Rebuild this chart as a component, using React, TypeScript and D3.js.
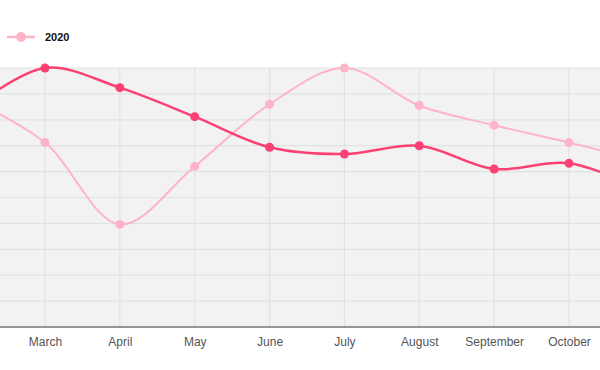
import React, { useEffect, useRef } from "react";
import * as d3 from "d3";

const months = ["February", "March", "April", "May", "June", "July", "August", "September", "October", "November"];
const series2019 = [8.4, 10, 9.24, 8.12, 6.94, 6.68, 7.0, 6.1, 6.32, 5.3];
const series2020 = [8.8, 7.12, 3.96, 6.2, 8.6, 10, 8.55, 7.79, 7.12, 6.4];
const yTicks = d3.range(0, 11);

const width = 600;
const height = 370;

export default function App() {
  const svgRef = useRef<SVGSVGElement>(null);

  useEffect(() => {
    const svg = d3.select(svgRef.current);
    svg.selectAll("*").remove();

    const top = 68;
    const bottom = 327;
    const step = (569 - 45) / 7;

    const x = d3.scalePoint<string>()
      .domain(months)
      .range([45 - step, 569 + step]);

    const y = d3.scaleLinear().domain([0, 10]).range([bottom, top]);

    // plot background
    svg.append("rect")
      .attr("x", 0)
      .attr("y", top)
      .attr("width", width)
      .attr("height", bottom - top)
      .attr("fill", "#f2f2f2");

    // grid
    svg.append("g")
      .selectAll("line")
      .data(yTicks)
      .enter()
      .append("line")
      .attr("x1", 0)
      .attr("x2", width)
      .attr("y1", d => y(d))
      .attr("y2", d => y(d))
      .attr("stroke", "#e2e2e2")
      .attr("stroke-width", 1.2);

    svg.append("g")
      .selectAll("line")
      .data(months)
      .enter()
      .append("line")
      .attr("x1", d => x(d)!)
      .attr("x2", d => x(d)!)
      .attr("y1", top)
      .attr("y2", bottom)
      .attr("stroke", "#e2e2e2")
      .attr("stroke-width", 1.2);

    // x axis - only labels that fit inside the view
    const visible = months.filter(m => x(m)! > 0 && x(m)! < width);
    const xAxis = d3.axisBottom(x).tickValues(visible).tickSize(0).tickPadding(10);
    const gx = svg.append("g")
      .attr("transform", `translate(0, ${bottom})`)
      .call(xAxis);
    gx.select(".domain").remove();
    gx.selectAll("text")
      .attr("fill", "#555")
      .style("font-family", "Arial, 'Liberation Sans', sans-serif")
      .style("font-size", "12px");

    svg.append("line")
      .attr("x1", 0)
      .attr("x2", width)
      .attr("y1", bottom)
      .attr("y2", bottom)
      .attr("stroke", "#777")
      .attr("stroke-width", 1.5);

    const line = d3.line<number>()
      .x((_, i) => x(months[i])!)
      .y(d => y(d))
      .curve(d3.curveCatmullRom.alpha(0.5));

    const drawSeries = (values: number[], color: string, lw: number, r: number) => {
      svg.append("path")
        .datum(values)
        .attr("d", line)
        .attr("fill", "none")
        .attr("stroke", color)
        .attr("stroke-width", lw);
      svg.append("g")
        .selectAll("circle")
        .data(values)
        .enter()
        .append("circle")
        .attr("cx", (_, i) => x(months[i])!)
        .attr("cy", d => y(d))
        .attr("r", r)
        .attr("fill", color);
    };

    drawSeries(series2020, "#ffb3c8", 2, 4.5);
    drawSeries(series2019, "#fb4173", 2.5, 4.5);

    // legend
    const legend = svg.append("g").attr("transform", "translate(7, 37)");
    legend.append("line")
      .attr("x1", 0)
      .attr("x2", 28)
      .attr("stroke", "#ffb3c8")
      .attr("stroke-width", 2.5);
    legend.append("circle")
      .attr("cx", 14)
      .attr("r", 5)
      .attr("fill", "#ffb3c8");
    legend.append("text")
      .attr("x", 38)
      .attr("dy", "0.35em")
      .attr("fill", "#111")
      .style("font-family", "Arial, 'Liberation Sans', sans-serif")
      .style("font-size", "11px")
      .style("font-weight", "bold")
      .text("2020");
  }, []);

  return (
    <svg
      ref={svgRef}
      width={width}
      height={height}
      style={{ position: "absolute", left: 0, top: 0, background: "#fff" }}
    />
  );
}
